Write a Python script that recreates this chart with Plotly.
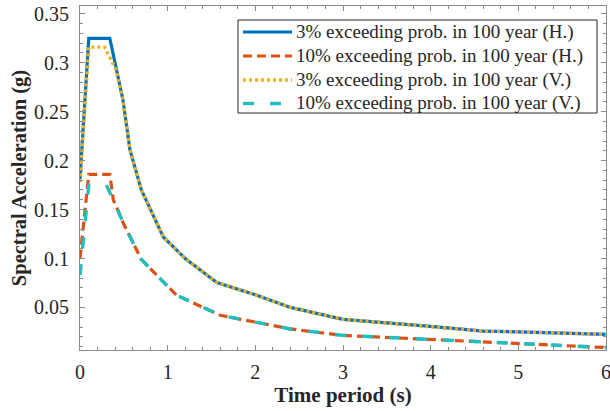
import plotly.graph_objects as go

# ---- data ----
T_h3 = [0, 0.1, 0.34, 0.41, 0.49, 0.57, 0.7, 0.95, 1.2, 1.56, 2.0, 2.4, 3.0, 4.0, 4.6, 5.0, 6.0]
S_h3 = [0.181, 0.325, 0.325, 0.296, 0.262, 0.211, 0.170, 0.122, 0.100, 0.0755, 0.063, 0.050, 0.0378, 0.0306, 0.0258, 0.0250, 0.0225]

T_h10 = [0, 0.1, 0.34, 0.38, 0.5, 0.7, 1.1, 1.6, 2.0, 2.4, 3.0, 4.0, 4.6, 5.0, 6.0]
S_h10 = [0.100, 0.186, 0.186, 0.160, 0.135, 0.099, 0.0625, 0.042, 0.035, 0.028, 0.0214, 0.0173, 0.0142, 0.0125, 0.0090]

T_v3 = [0, 0.1, 0.28, 0.41, 0.49, 0.57, 0.7, 0.95, 1.2, 1.56, 2.0, 2.4, 3.0, 4.0, 4.6, 5.0, 6.0]
S_v3 = [0.178, 0.316, 0.316, 0.293, 0.262, 0.211, 0.170, 0.122, 0.100, 0.0755, 0.063, 0.050, 0.0378, 0.0306, 0.0258, 0.0250, 0.0225]

T_v10 = [0, 0.1, 0.3, 0.38, 0.5, 0.7, 1.1, 1.6, 2.0, 2.4, 3.0, 4.0, 4.6, 5.0, 6.0]
S_v10 = [0.083, 0.175, 0.175, 0.160, 0.135, 0.099, 0.0625, 0.042, 0.035, 0.028, 0.0214, 0.0173, 0.0142, 0.0125, 0.0090]

names = ["3% exceeding prob. in 100 year (H.)",
         "10% exceeding prob. in 100 year (H.)",
         "3% exceeding prob. in 100 year (V.)",
         "10% exceeding prob. in 100 year (V.)"]

x_ticks = [0, 1, 2, 3, 4, 5, 6]
y_ticks = [0.05, 0.1, 0.15, 0.2, 0.25, 0.3, 0.35]
y_ticktext = ["0.05", "0.1", "0.15", "0.2", "0.25", "0.3", "0.35"]

FONT = "Liberation Serif, Times New Roman, serif"
AX = "#8a8a8a"
TXT = "#262626"

styles = [
    dict(color="#0072BD", width=3.2),
    dict(color="#D95319", width=3.2, dash="9px,5px"),
    dict(color="#EDB120", width=3.4, dash="3px,3px"),
    dict(color="#20BFC0", width=3.4, dash="11px,16px"),
]
series = [(T_h3, S_h3), (T_h10, S_h10), (T_v3, S_v3), (T_v10, S_v10)]

fig = go.Figure()
for (tx, sy), nm, st in zip(series, names, styles):
    fig.add_trace(go.Scatter(x=tx, y=sy, mode="lines", name=nm, line=st, showlegend=False))

axis_common = dict(
    showline=True, linecolor=AX, linewidth=1, mirror="ticks",
    ticks="inside", ticklen=5, tickcolor=AX, tickwidth=1,
    showgrid=False, zeroline=False,
    tickfont=dict(family=FONT, size=20, color=TXT),
    ticklabeloverflow="allow",
)

fig.update_xaxes(range=[0, 6], tickvals=x_ticks,
                 minor=dict(ticks="inside", ticklen=3, dtick=0.2, tickcolor=AX, showgrid=False),
                 title=dict(text="<b>Time period (s)</b>", font=dict(family=FONT, size=21, color=TXT), standoff=3),
                 ticklabelstandoff=4,
                 **axis_common)
fig.update_yaxes(range=[0.0065, 0.358], tickvals=y_ticks, ticktext=y_ticktext,
                 minor=dict(ticks="inside", ticklen=3, dtick=0.01, tick0=0, tickcolor=AX, showgrid=False),
                 title=dict(text="<b>Spectral Acceleration (g)</b>", font=dict(family=FONT, size=20.5, color=TXT), standoff=1),
                 ticklabelstandoff=6,
                 **axis_common)

# ---- hand-built legend (MATLAB-like compact rows) ----
def px_x(p):
    return (p - 80) / 526.0

def px_y(p):
    return (350 - p) / 344.0

shapes = [dict(type="rect", xref="paper", yref="paper",
               x0=px_x(238), x1=px_x(597), y0=px_y(113), y1=px_y(20),
               line=dict(color=TXT, width=1), fillcolor="white", layer="above")]
annotations = []
row_y = [32, 56, 80, 103.5]
for ry, nm, st in zip(row_y, names, styles):
    shapes.append(dict(type="line", xref="paper", yref="paper",
                       x0=px_x(243), x1=px_x(292), y0=px_y(ry), y1=px_y(ry),
                       line=st, layer="above"))
    annotations.append(dict(xref="paper", yref="paper", x=px_x(294), y=px_y(ry),
                            xanchor="left", yanchor="middle", showarrow=False,
                            text=nm, font=dict(family=FONT, size=19, color=TXT)))

fig.update_layout(
    width=610, height=411,
    margin=dict(l=80, r=4, t=6, b=61, autoexpand=False),
    plot_bgcolor="white", paper_bgcolor="white",
    font=dict(family=FONT, color=TXT),
    shapes=shapes, annotations=annotations,
    showlegend=False,
)

fig.write_html("out.html")
